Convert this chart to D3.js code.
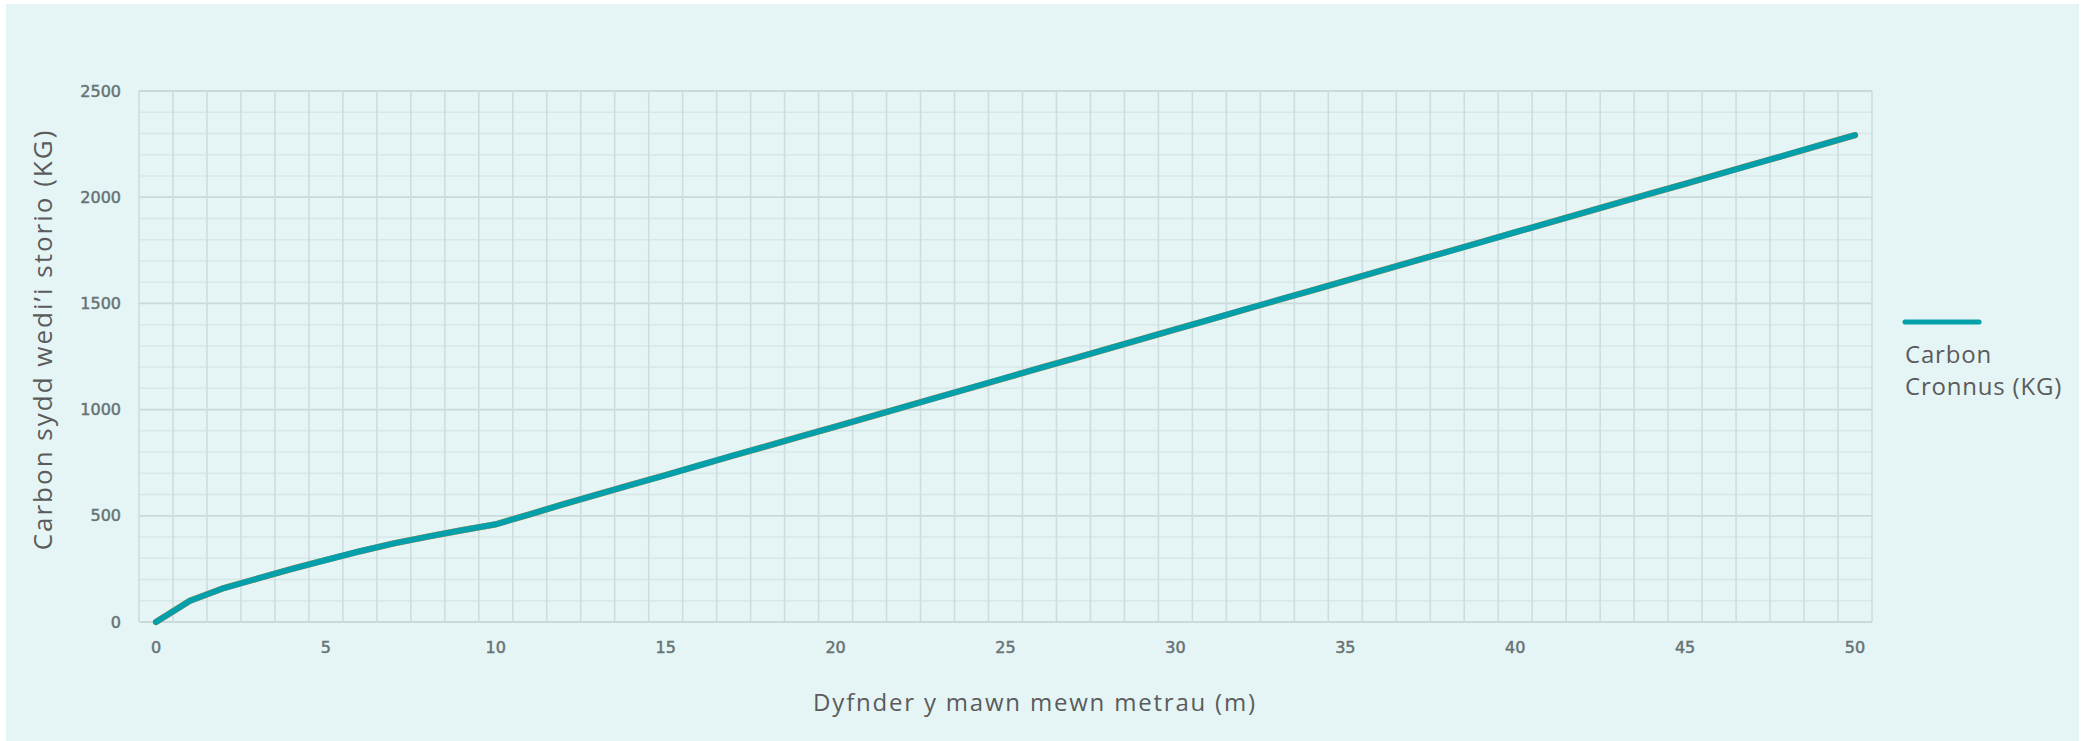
<!DOCTYPE html>
<html>
<head>
<meta charset="utf-8">
<script src="https://cdn.jsdelivr.net/npm/d3@7"></script>
<style>
  html, body { margin: 0; padding: 0; background: #ffffff; }
  svg { display: block; }
</style>
</head>
<body>
<svg width="2084" height="741"></svg>
<script>
// depth in metres (categories)
const depths = d3.range(0, 51);

// accumulated carbon (KG)
const carbonValues = [
  0, 100, 160, 205, 250, 292, 333, 370, 402, 432,
  460, 507, 555, 601, 647, 692, 738, 784, 829, 875,
  920, 966, 1012, 1058, 1103, 1149, 1195, 1240, 1286, 1332,
  1378, 1423, 1469, 1515, 1560, 1606, 1652, 1698, 1743, 1789,
  1835, 1880, 1926, 1972, 2018, 2063, 2109, 2155, 2200, 2246,
  2292
];

const yTicks = [0, 500, 1000, 1500, 2000, 2500];
const xTicks = [0, 5, 10, 15, 20, 25, 30, 35, 40, 45, 50];

const seriesName = ['Carbon', 'Cronnus (KG)'];
const yTitle = "Carbon sydd wedi\u2019i storio (KG)";
const xTitle = 'Dyfnder y mawn mewn metrau (m)';

const svg = d3.select('svg');

// panel background
svg.append('rect')
    .attr('x', 6)
    .attr('y', 4)
    .attr('width', 2073)
    .attr('height', 737)
    .attr('fill', '#e5f5f6');

const plotLeft = 139, plotRight = 1872, plotTop = 91, plotBottom = 622;

const x = d3.scaleBand()
    .domain(depths)
    .range([plotLeft, plotRight]);

const y = d3.scaleLinear()
    .domain([0, 2500])
    .range([plotBottom, plotTop]);

const grid = svg.append('g');

// horizontal lines every 100
grid.selectAll('line.h')
    .data(d3.range(0, 2501, 100))
  .enter().append('line')
    .attr('x1', plotLeft)
    .attr('x2', plotRight)
    .attr('y1', d => y(d))
    .attr('y2', d => y(d))
    .attr('stroke', d => d % 500 === 0 ? '#c9dadb' : '#d6e7e8')
    .attr('stroke-width', d => d % 500 === 0 ? 1.8 : 1.5);

// vertical lines on category edges
grid.selectAll('line.v')
    .data(depths.concat([51]))
  .enter().append('line')
    .attr('x1', d => d < 51 ? x(d) : plotRight)
    .attr('x2', d => d < 51 ? x(d) : plotRight)
    .attr('y1', plotTop)
    .attr('y2', plotBottom)
    .attr('stroke', '#cddddf')
    .attr('stroke-width', 1.6);

// y axis labels
const yAxis = svg.append('g')
    .attr('transform', `translate(${plotLeft - 18}, 0)`)
    .call(d3.axisLeft(y).tickValues(yTicks).tickFormat(d3.format('d')).tickSize(0).tickPadding(0));
yAxis.select('.domain').remove();
yAxis.selectAll('text')
    .attr('font-family', 'DejaVu Sans, Verdana, sans-serif')
    .attr('font-size', 16)
    .attr('fill', '#687373')
    .attr('stroke', '#687373')
    .attr('stroke-width', 0.5);

// x axis labels
const xAxis = svg.append('g')
    .attr('transform', `translate(0, ${plotBottom + 20})`)
    .call(d3.axisBottom(x).tickValues(xTicks).tickSize(0).tickPadding(0));
xAxis.select('.domain').remove();
xAxis.selectAll('text')
    .attr('font-family', 'DejaVu Sans, Verdana, sans-serif')
    .attr('font-size', 16)
    .attr('fill', '#687373')
    .attr('stroke', '#687373')
    .attr('stroke-width', 0.5);

const line = d3.line()
    .x((d, i) => x(depths[i]) + x.bandwidth() / 2)
    .y(d => y(d));

// faint orange series under the main one
svg.append('path')
    .datum(carbonValues)
    .attr('d', line)
    .attr('fill', 'none')
    .attr('stroke', '#e8893a')
    .attr('stroke-width', 6.4)
    .attr('stroke-linejoin', 'round')
    .attr('stroke-linecap', 'round');

svg.append('path')
    .datum(carbonValues)
    .attr('d', line)
    .attr('fill', 'none')
    .attr('stroke', '#03a0ab')
    .attr('stroke-width', 6)
    .attr('stroke-linejoin', 'round')
    .attr('stroke-linecap', 'round');

// axis titles
svg.append('text')
    .attr('transform', `translate(52, ${(plotTop + plotBottom) / 2 - 17}) rotate(-90)`)
    .attr('text-anchor', 'middle')
    .attr('font-family', 'Open Sans, sans-serif')
    .attr('font-size', 26)
    .attr('letter-spacing', 2)
    .attr('fill', '#5b5b5b')
    .text(yTitle);

svg.append('text')
    .attr('x', 1035)
    .attr('y', 711)
    .attr('text-anchor', 'middle')
    .attr('font-family', 'Open Sans, sans-serif')
    .attr('font-size', 24)
    .attr('letter-spacing', 1.8)
    .attr('fill', '#5b5b5b')
    .text(xTitle);

// legend
const legend = svg.append('g')
    .attr('transform', 'translate(1905, 322)');

legend.append('line')
    .attr('x1', 0)
    .attr('x2', 74)
    .attr('stroke', '#03a0ab')
    .attr('stroke-width', 5)
    .attr('stroke-linecap', 'round');

legend.selectAll('text')
    .data(seriesName)
  .enter().append('text')
    .attr('x', 0)
    .attr('y', (d, i) => 41 + i * 32)
    .attr('font-family', 'Open Sans, sans-serif')
    .attr('font-size', 24)
    .attr('letter-spacing', 0.8)
    .attr('fill', '#5b5b5b')
    .text(d => d);
</script>
</body>
</html>
